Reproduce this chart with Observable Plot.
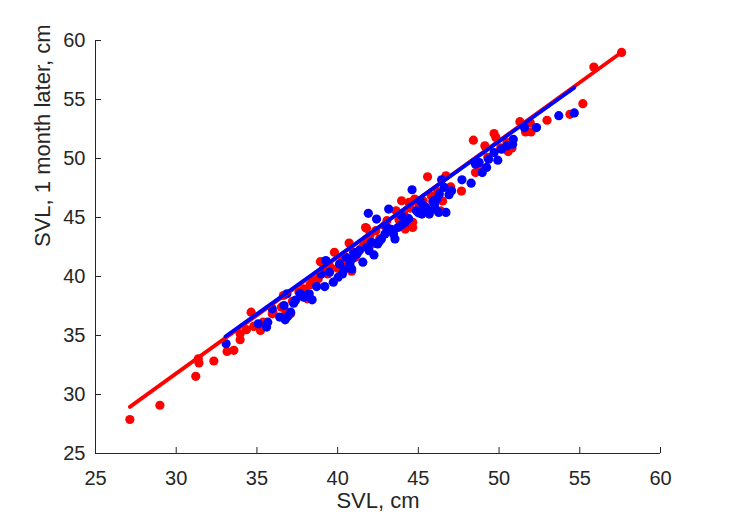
<!DOCTYPE html>
<html><head><meta charset="utf-8">
<script src="https://cdn.jsdelivr.net/npm/d3@7"></script>
<script src="https://cdn.jsdelivr.net/npm/@observablehq/plot@0.6"></script>
<style>body{margin:0;background:#fff}#chart{width:729px;height:521px}</style>
</head><body><div id="chart"></div>
<script>
const xTicks = [25, 30, 35, 40, 45, 50, 55, 60];
const yTicks = [25, 30, 35, 40, 45, 50, 55, 60];
const xLabel = "SVL, cm";
const yLabel = "SVL, 1 month later, cm";

const redX = [27.13,28.99,31.21,31.37,31.41,32.33,33.15,33.57,33.96,33.96,34.35,34.64,34.80,35.22,35.38,35.95,36.52,36.64,37.09,37.90,38.12,38.47,38.93,39.38,39.80,40.71,40.87,41.10,41.79,41.79,42.13,42.36,43.05,43.62,43.96,44.19,44.65,44.65,44.42,44.77,45.57,45.80,46.37,46.71,47.67,48.41,48.54,49.12,49.69,49.80,50.49,50.56,51.29,51.64,51.98,51.93,52.97,54.39,55.19,55.87,57.59,
  36.00,36.80,37.20,37.60,38.30,38.80,39.10,39.50,40.00,40.30,40.60,41.40,41.60,42.00,42.60,42.90,43.30,43.80,44.10,44.50,45.00,45.30,45.90,46.20,46.50,47.00,48.50,48.80,49.30,50.10,50.80,41.73,44.20,45.30];
const redY = [27.88,29.09,31.54,33.03,32.67,32.84,33.65,33.74,34.64,35.15,35.49,36.98,35.77,35.43,36.13,36.84,37.40,38.39,36.84,38.95,38.11,39.66,41.26,40.22,42.05,42.84,40.45,41.63,44.08,43.18,42.76,43.88,44.73,45.57,46.42,44.02,44.59,44.16,46.28,46.56,48.45,46.84,45.57,48.53,47.24,51.55,48.81,51.07,52.11,51.77,51.35,50.59,53.12,52.25,52.25,53.04,53.24,53.74,54.65,57.75,58.99,
  37.00,37.00,37.90,38.70,39.30,39.80,40.60,40.90,40.70,41.50,41.20,42.30,42.60,43.50,43.20,44.30,44.00,44.80,45.30,45.80,46.20,45.80,46.30,47.20,46.40,47.60,49.70,49.20,50.10,50.90,50.90,44.15,44.50,46.40];

const blueX = [33.09,35.08,35.60,35.67,35.95,36.41,36.68,36.75,36.86,37.09,37.28,37.67,37.90,38.24,38.42,38.70,38.97,39.20,39.27,39.50,39.73,40.03,40.12,40.30,40.53,40.76,40.87,40.99,41.33,41.56,41.90,41.95,42.25,42.41,42.48,42.71,42.93,43.05,43.16,43.46,43.55,43.74,43.96,44.19,44.61,44.88,45.11,45.22,45.45,45.68,45.91,46.03,46.14,46.26,46.44,46.60,46.71,46.90,47.06,47.70,48.27,48.54,48.77,48.96,49.23,49.35,49.69,49.92,50.15,50.49,50.84,50.88,51.57,52.32,53.70,54.66,
  40.40,40.90,41.20,41.80,42.10,42.60,43.30,44.00,44.40,45.00,45.30,45.60,46.00,46.30,37.40,38.00,36.90];
const blueY = [34.30,35.99,35.71,36.13,37.26,36.56,37.54,36.33,38.53,36.98,37.74,38.53,38.25,38.53,38.02,39.15,40.22,39.15,41.35,40.36,39.52,39.94,41.07,40.22,41.63,41.07,40.64,42.05,42.19,41.21,45.35,42.19,41.83,44.87,42.76,43.18,43.60,44.16,45.71,43.60,43.18,44.16,45.15,44.59,47.35,45.57,46.42,45.29,45.86,45.29,46.42,45.71,46.56,45.43,48.19,47.55,45.43,46.93,47.26,48.19,47.91,49.52,49.66,48.81,49.24,49.94,50.50,49.86,50.79,51.07,51.21,51.63,52.62,52.62,53.63,53.86,
  40.60,41.50,41.90,42.50,42.90,43.00,44.00,44.40,44.90,45.40,46.00,45.60,46.10,47.00,38.00,38.40,36.60];

const redFitX = [27.13, 57.55];
const redFitY = [28.95, 58.96];
const blueFitX = [33.05, 54.66];
const blueFitY = [34.92, 56.00];

const red = redX.map((x, i) => ({x, y: redY[i]}));
const blue = blueX.map((x, i) => ({x, y: blueY[i]}));
const redFit = redFitX.map((x, i) => ({x, y: redFitY[i]}));
const blueFit = blueFitX.map((x, i) => ({x, y: blueFitY[i]}));

const axisColor = "#262626";
const font = "'Liberation Sans', Arial, Helvetica, sans-serif";

const chart = Plot.plot({
  width: 729,
  height: 521,
  marginLeft: 95,
  marginRight: 69,
  marginTop: 40,
  marginBottom: 68,
  style: {fontFamily: font, background: "#fff", color: axisColor},
  x: {domain: [25, 60]},
  y: {domain: [25, 60]},
  marks: [
    Plot.dot(red, {x: "x", y: "y", r: 4.6, fill: "#ff0000", stroke: "none"}),
    Plot.dot(blue, {x: "x", y: "y", r: 4.6, fill: "#0000ff", stroke: "none"}),
    Plot.line(redFit, {x: "x", y: "y", stroke: "#ff0000", strokeWidth: 3.8}),
    Plot.line(blueFit, {x: "x", y: "y", stroke: "#0000ff", strokeWidth: 3.8}),
    Plot.axisX({ticks: xTicks, tickSize: -6, tickPadding: 23, fontSize: 20, label: null, stroke: axisColor, fill: axisColor}),
    Plot.axisY({ticks: yTicks, tickSize: -6, tickPadding: 16, fontSize: 20, label: null, stroke: axisColor, fill: axisColor}),
    Plot.ruleX([25], {stroke: axisColor, strokeWidth: 1}),
    Plot.ruleY([25], {stroke: axisColor, strokeWidth: 1}),
    Plot.text([xLabel], {text: d => d, frameAnchor: "bottom", dy: 54, fontSize: 22, fill: axisColor}),
    Plot.text([yLabel], {text: d => d, frameAnchor: "left", dx: -53, rotate: -90, fontSize: 22, fill: axisColor})
  ]
});
document.getElementById("chart").appendChild(chart);
</script>
</body></html>
